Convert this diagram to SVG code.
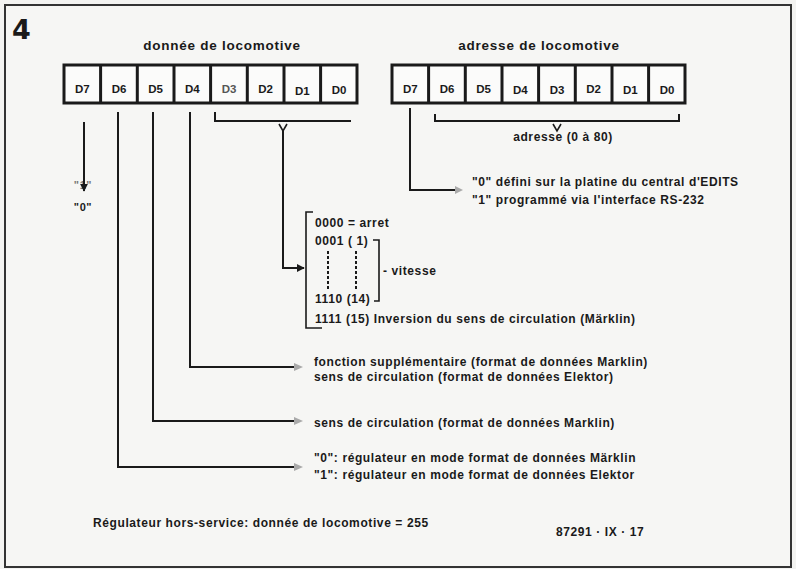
<svg xmlns="http://www.w3.org/2000/svg" width="796" height="569" viewBox="0 0 796 569">
<style>
text{font-family:"Liberation Sans",Arial,sans-serif;font-weight:bold;fill:#1a1a1a}
.t{font-size:12px;letter-spacing:0.6px}
.ttl{font-size:13.5px;letter-spacing:0.75px;text-anchor:middle}
.cell{font-size:11.5px;text-anchor:middle}
.box{fill:#fbfbfa;stroke:#1a1a1a;stroke-width:3}
.div{stroke:#1a1a1a;stroke-width:3}
.ln{fill:none;stroke:#1a1a1a;stroke-width:2}
.thin{fill:none;stroke:#1a1a1a;stroke-width:1.6}
.dot{fill:none;stroke:#1a1a1a;stroke-width:2;stroke-dasharray:3 2}
.fa{fill:#aaa}
</style>
<defs>
<marker id="ah" viewBox="0 0 10 10" refX="9" refY="5" markerWidth="8" markerHeight="8" markerUnits="userSpaceOnUse" orient="auto"><path d="M0,0 L10,5 L0,10 z" fill="#1a1a1a"/></marker>
</defs>
<rect x="0" y="0" width="796" height="569" fill="#f3f3f1"/>
<rect x="5" y="5" width="786" height="562" fill="#f6f6f4" stroke="#333" stroke-width="2"/>
<text x="12" y="39" style="font-family:'DejaVu Sans',sans-serif;font-size:27px">4</text>

<g id="byte-data">
<text class="ttl" x="222" y="50">donnée de locomotive</text>
<rect class="box" x="64" y="65" width="293" height="38"/>
<path class="div" d="M100.6,65V103M137.3,65V103M174,65V103M210.6,65V103M247.3,65V103M284,65V103M320.6,65V103"/>
<text class="cell" x="82.3" y="93">D7</text>
<text class="cell" x="119" y="93">D6</text>
<text class="cell" x="155.6" y="93">D5</text>
<text class="cell" x="192.3" y="93">D4</text>
<text class="cell" x="229" y="93" style="fill:#555">D3</text>
<text class="cell" x="265.6" y="93">D2</text>
<text class="cell" x="302.3" y="95">D1</text>
<text class="cell" x="339" y="94">D0</text>
</g>

<g id="byte-addr">
<text class="ttl" x="539" y="50">adresse de locomotive</text>
<rect class="box" x="392" y="65" width="293" height="38"/>
<path class="div" d="M428.6,65V103M465.3,65V103M502,65V103M538.6,65V103M575.3,65V103M612,65V103M648.6,65V103"/>
<text class="cell" x="410.3" y="93">D7</text>
<text class="cell" x="447" y="93">D6</text>
<text class="cell" x="483.6" y="93">D5</text>
<text class="cell" x="520.3" y="94">D4</text>
<text class="cell" x="557" y="94">D3</text>
<text class="cell" x="593.6" y="93">D2</text>
<text class="cell" x="630.3" y="94">D1</text>
<text class="cell" x="667" y="94">D0</text>
</g>

<g id="d7-data">
<text class="t" x="83" y="189" style="text-anchor:middle;fill:#777;font-size:11px">"1"</text>
<text class="t" x="83" y="211" style="text-anchor:middle;font-size:11px">"0"</text>
</g>

<g id="speed">
<path class="thin" d="M313,212H306V328H322"/>
<text class="t" x="315" y="227">0000 = arret</text>
<text class="t" x="315" y="245">0001 ( 1)</text>
<path class="dot" d="M328,251V290M356,251V290"/>
<text class="t" x="315" y="303">1110 (14)</text>
<path class="thin" d="M373,240H379V301H374"/>
<text class="t" x="383" y="275">- vitesse</text>
<text class="t" x="315" y="323">1111 (15) Inversion du sens de circulation (Märklin)</text>
</g>

<g id="addr-label">
<text class="t" x="563" y="141" style="text-anchor:middle">adresse (0 à 80)</text>
</g>

<g id="edits">
<text class="t" x="472" y="186">"0" défini sur la platine du central d'EDITS</text>
<text class="t" x="472" y="204">"1" programmé via l'interface RS-232</text>
</g>

<g id="d4-text">
<text class="t" x="314" y="366">fonction supplémentaire (format de données Marklin)</text>
<text class="t" x="314" y="381">sens de circulation (format de données Elektor)</text>
</g>
<g id="d5-text">
<text class="t" x="314" y="427">sens de circulation (format de données Marklin)</text>
</g>
<g id="d6-text">
<text class="t" x="314" y="462">"0": régulateur en mode format de données Märklin</text>
<text class="t" x="314" y="479">"1": régulateur en mode format de données Elektor</text>
</g>

<g id="footer">
<text class="t" x="93" y="527">Régulateur hors-service: donnée de locomotive = 255</text>
<text class="t" x="556" y="536">87291 · IX · 17</text>
</g>

<g id="connectors">
<path class="ln" d="M84,122V191" marker-end="url(#ah)"/>
<path class="ln" d="M118,112V467H296"/>
<path class="ln" d="M153,112V421H296"/>
<path class="ln" d="M190,112V367H296"/>
<path class="fa" d="M294,463L303,467L294,471z"/>
<path class="fa" d="M294,417L303,421L294,425z"/>
<path class="fa" d="M294,363L303,367L294,371z"/>
<path class="ln" d="M215,112V121H351"/>
<path class="thin" d="M279,124L283,131L287,124"/>
<path class="ln" d="M283,131V268H304" marker-end="url(#ah)"/>
<path class="ln" d="M435,114V121H679V114"/>
<path class="thin" d="M553,124L557,131L561,124"/>
<path class="ln" d="M410,108V190H456"/>
<path class="fa" d="M455,186L463,190L455,194z"/>
</g>
</svg>
